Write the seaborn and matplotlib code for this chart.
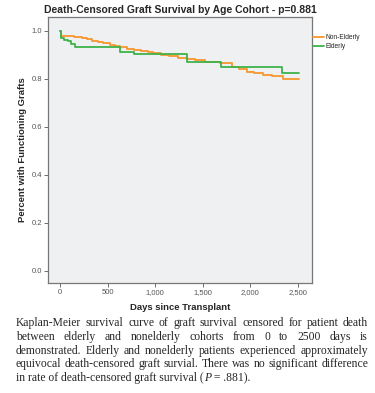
import numpy as np
import pandas as pd
import seaborn as sns
import matplotlib.pyplot as plt
from matplotlib.ticker import FuncFormatter

# Kaplan-Meier step values
non_elderly_days = [0, 10, 60, 150, 230, 280, 340, 400, 455, 520, 580, 630, 700, 780,
                    850, 920, 980, 1060, 1150, 1240, 1330, 1420, 1520, 1600, 1680, 1803,
                    1880, 1960, 2040, 2130, 2223, 2346, 2513]
non_elderly_surv = [1.0, 0.979, 0.976, 0.972, 0.968, 0.964, 0.958, 0.952, 0.947, 0.94,
                    0.935, 0.93, 0.925, 0.92, 0.915, 0.91, 0.906, 0.9, 0.894, 0.887,
                    0.88, 0.876, 0.871, 0.868, 0.864, 0.85, 0.838, 0.829, 0.822, 0.816,
                    0.811, 0.797, 0.797]

elderly_days = [0, 10, 40, 80, 120, 158, 630, 780, 1330, 1688, 2328, 2513]
elderly_surv = [1.0, 0.968, 0.962, 0.955, 0.945, 0.933, 0.912, 0.903, 0.868, 0.85, 0.822, 0.822]

x_ticks = [0, 500, 1000, 1500, 2000, 2500]
y_ticks = [0.0, 0.2, 0.4, 0.6, 0.8, 1.0]

caption = [
    "Kaplan-Meier survival curve of graft survival censored for patient death",
    "between elderly and nonelderly cohorts from 0 to 2500 days is",
    "demonstrated. Elderly and nonelderly patients experienced approximately",
    "equivocal death-censored graft survial. There was no significant difference",
]
last_line = [("in rate of death-censored graft survival (", "normal"),
             ("P", "italic"), (" = .881).", "normal")]

df = pd.concat([
    pd.DataFrame({"days": non_elderly_days, "surv": non_elderly_surv, "group": "Non-Elderly"}),
    pd.DataFrame({"days": elderly_days, "surv": elderly_surv, "group": "Elderly"}),
])

sns.set_style("white")
plt.rcParams["font.family"] = ["Liberation Sans", "DejaVu Sans"]

fig = plt.figure(figsize=(3.75, 3.93), dpi=100)
ax = fig.add_axes([0.128, 0.280, 0.704, 0.677])
ax.set_facecolor("#eff0f2")

sns.lineplot(data=df, x="days", y="surv", hue="group", estimator=None,
             palette={"Non-Elderly": "#f7962e", "Elderly": "#3db34a"},
             drawstyle="steps-post", linewidth=1.3, ax=ax)

ax.set_xlim(-126, 2647)
ax.set_ylim(-0.051, 1.057)
ax.set_xticks(x_ticks)
ax.set_yticks(y_ticks)
ax.xaxis.set_major_formatter(FuncFormatter(lambda v, p: f"{int(v):,}"))
ax.yaxis.set_major_formatter(FuncFormatter(lambda v, p: f"{v:.1f}"))
ax.tick_params(axis="both", labelsize=5.5, labelcolor="#555555", length=3,
               width=0.6, color="#555555", direction="out", pad=1.5)
ax.tick_params(left=True, bottom=True)
for s in ax.spines.values():
    s.set_color("#777777")
    s.set_linewidth(0.9)

ax.set_xlabel("Days since Transplant", fontsize=6.8, fontweight="bold", labelpad=5)
ax.set_ylabel("Percent with Functioning Grafts", fontsize=6.8, fontweight="bold", labelpad=3)
ax.set_title("Death-Censored Graft Survival by Age Cohort - p=0.881",
             fontsize=7.5, fontweight="bold", pad=3)

ax.legend(loc="upper left", bbox_to_anchor=(0.995, 0.945), frameon=False,
          fontsize=4.8, handlelength=1.6, handletextpad=0.2, labelspacing=0.3,
          borderaxespad=0)

# caption below the chart, justified lines like the journal layout
serif = ["Liberation Serif", "DejaVu Serif"]
x_left, x_right = 16, 368
W, H = 375, 393
renderer = fig.canvas.get_renderer()

def width_px(s, fs, style="normal"):
    t = fig.text(0, 0, s, fontsize=fs, family=serif, style=style)
    w = t.get_window_extent(renderer).width
    t.remove()
    return w

# pick the size so the longest line just fits the column
fs = 10 * (x_right - x_left) / max(width_px(l, 10) for l in caption) * 0.99

for i, line in enumerate(caption):
    y = 1 - (323.3 + i * 13.7) / H
    words = line.split(" ")
    widths = [width_px(w, fs) for w in words]
    gap = (x_right - x_left - sum(widths)) / (len(words) - 1)
    x = x_left
    for w, wd in zip(words, widths):
        fig.text(x / W, y, w, fontsize=fs, family=serif, va="center", ha="left")
        x += wd + gap

y = 1 - (323.3 + 4 * 13.7) / H
x = x_left
for piece, style in last_line:
    fig.text(x / W, y, piece, fontsize=fs, family=serif, style=style, va="center", ha="left")
    x += width_px(piece, fs, style)

fig.savefig("out.png", dpi=100)
